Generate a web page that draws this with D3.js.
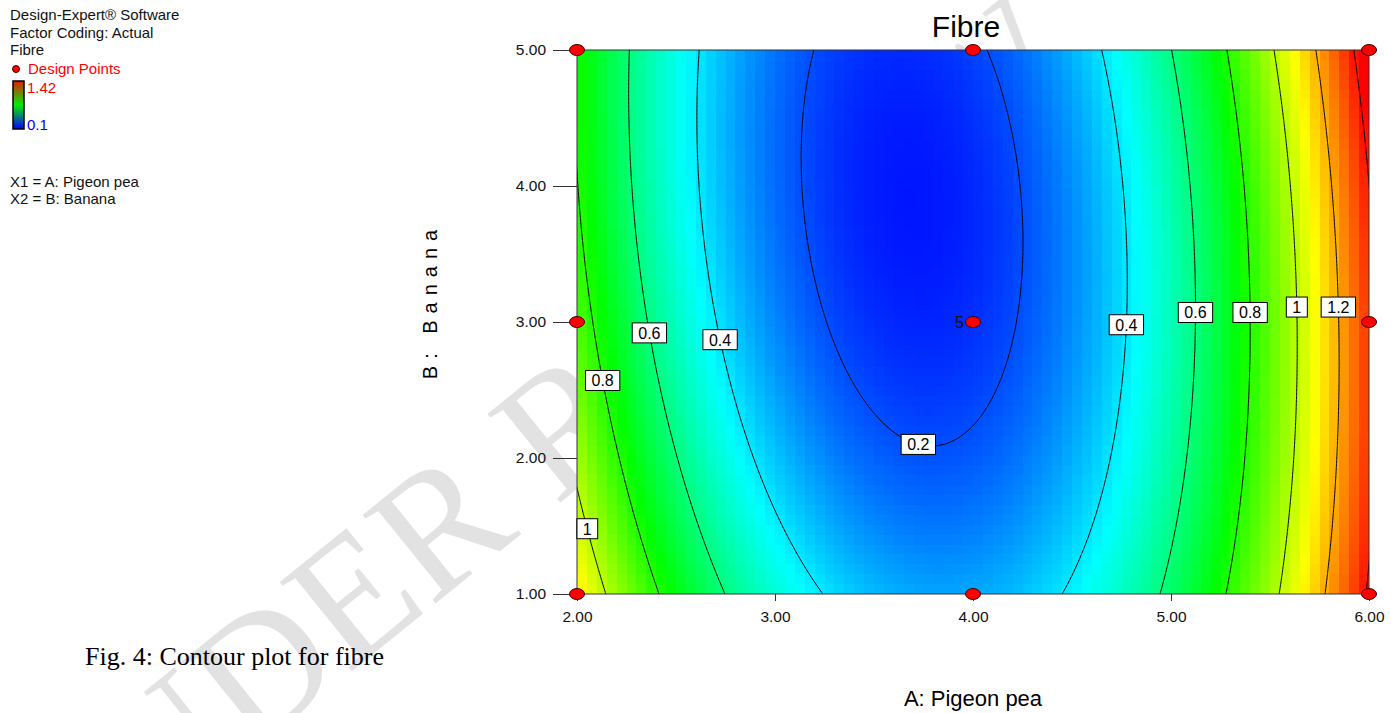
<!DOCTYPE html>
<html>
<head>
<meta charset="utf-8">
<script src="https://cdn.jsdelivr.net/npm/d3@7"></script>
<style>
  html, body { margin: 0; padding: 0; background: #fff; }
  svg { display: block; font-family: Arial, "Liberation Sans", sans-serif; }
</style>
</head>
<body>
<svg id="chart" width="1391" height="713"></svg>
<script>
// Response surface in actual factors:
// Fibre = c0 + c1*A + c2*B + c3*A*B + c4*A^2 + c5*B^2
const modelTerms = ["Intercept", "A", "B", "AB", "A^2", "B^2"];
const modelCoefs = [4.074, -1.852, -0.2707, 0.0252, 0.2375, 0.0228];

const rangeA = [2, 6];
const rangeB = [1, 5];
const ticksA = [2, 3, 4, 5, 6];
const ticksB = [1, 2, 3, 4, 5];

const contourLevels = [0.2, 0.4, 0.6, 0.8, 1, 1.2, 1.4];

// contour labels: level, which branch of the curve, and the B where the label sits
const labelLevels = [0.2, 0.4, 0.6, 0.8, 1, 0.4, 0.6, 0.8, 1, 1.2];
const labelSides = ["left", "left", "left", "left", "left", "right", "right", "right", "right", "right"];
const labelB = [2.1, 2.87, 2.92, 2.57, 1.48, 2.98, 3.07, 3.07, 3.11, 3.11];

const designA = [2, 2, 2, 4, 4, 4, 6, 6, 6];
const designB = [1, 3, 5, 1, 3, 5, 1, 3, 5];
const designReps = [1, 1, 1, 1, 5, 1, 1, 1, 1];

const responseMin = 0.1;
const responseMax = 1.42;
const colorStops = [0.1, 0.43, 0.76, 1.09, 1.42];
const colorRange = ["#0000ff", "#00ffff", "#00ff00", "#ffff00", "#ff0000"];

const legendLines = ["Design-Expert\u00ae Software", "Factor Coding: Actual", "Fibre"];
const factorLines = ["X1 = A: Pigeon pea", "X2 = B: Banana"];

// ---------------------------------------------------------------
const plot = { left: 577, right: 1369, top: 50, bottom: 594 };

const svg = d3.select("#chart");

const x = d3.scaleLinear().domain(rangeA).range([plot.left, plot.right]);
const y = d3.scaleLinear().domain(rangeB).range([plot.bottom, plot.top]);
const color = d3.scaleLinear().domain(colorStops).range(colorRange).clamp(true);

function fibre(a, b) {
  const c = modelCoefs;
  return c[0] + c[1] * a + c[2] * b + c[3] * a * b + c[4] * a * a + c[5] * b * b;
}

// A where the surface reaches "level" at a given B
function solveA(level, b, side) {
  const c = modelCoefs;
  const p = c[4];
  const q = c[1] + c[3] * b;
  const r = c[0] + c[2] * b + c[5] * b * b - level;
  const disc = q * q - 4 * p * r;
  if (disc < 0) return -q / (2 * p);
  const s = Math.sqrt(disc);
  return side === "left" ? (-q - s) / (2 * p) : (-q + s) / (2 * p);
}

// watermark behind everything
svg.append("text")
  .attr("transform", "translate(53,913) rotate(-39)")
  .attr("font-family", "'Liberation Serif', 'Times New Roman', serif")
  .attr("font-size", 175)
  .attr("fill", "#e2e2e2")
  .text("UNDER REVIEW");

svg.append("defs").append("clipPath").attr("id", "plot-clip")
  .append("rect")
  .attr("x", plot.left).attr("y", plot.top)
  .attr("width", plot.right - plot.left).attr("height", plot.bottom - plot.top);

// colour cells
const nCols = 80, nRows = 55;
const cells = [];
for (let j = 0; j < nRows; j++) {
  for (let i = 0; i < nCols; i++) {
    const a0 = rangeA[0] + (i / nCols) * (rangeA[1] - rangeA[0]);
    const a1 = rangeA[0] + ((i + 1) / nCols) * (rangeA[1] - rangeA[0]);
    const b0 = rangeB[1] - (j / nRows) * (rangeB[1] - rangeB[0]);
    const b1 = rangeB[1] - ((j + 1) / nRows) * (rangeB[1] - rangeB[0]);
    cells.push({ a0, a1, b0, b1, v: fibre((a0 + a1) / 2, (b0 + b1) / 2) });
  }
}

const plotArea = svg.append("g").attr("clip-path", "url(#plot-clip)");

plotArea.append("g")
  .selectAll("rect")
  .data(cells)
  .enter()
  .append("rect")
  .attr("x", (d) => x(d.a0))
  .attr("y", (d) => y(d.b0))
  .attr("width", (d) => x(d.a1) - x(d.a0) + 0.6)
  .attr("height", (d) => y(d.b1) - y(d.b0) + 0.6)
  .attr("fill", (d) => color(d.v))
  .attr("shape-rendering", "crispEdges");

// contour lines (grid goes one step past each edge, the clip hides the rim)
const step = 0.01;
const n = Math.round((rangeA[1] - rangeA[0]) / step) + 3;
const m = Math.round((rangeB[1] - rangeB[0]) / step) + 3;
const values = new Array(n * m);
for (let j = 0; j < m; j++) {
  for (let i = 0; i < n; i++) {
    values[j * n + i] = fibre(rangeA[0] + (i - 1) * step, rangeB[1] - (j - 1) * step);
  }
}
const contours = d3.contours().size([n, m]).thresholds(contourLevels)(values);

const gridToPlot = d3.geoTransform({
  point: function (gx, gy) {
    this.stream.point(x(rangeA[0] + (gx - 1.5) * step), y(rangeB[1] - (gy - 1.5) * step));
  },
});

plotArea.append("g")
  .selectAll("path")
  .data(contours)
  .enter()
  .append("path")
  .attr("d", d3.geoPath(gridToPlot))
  .attr("fill", "none")
  .attr("stroke", "#000")
  .attr("stroke-width", 1);

// contour labels
const labels = labelLevels.map((level, i) => ({
  level,
  b: labelB[i],
  a: solveA(level, labelB[i], labelSides[i]),
}));

const labelGroups = svg.append("g")
  .selectAll("g")
  .data(labels)
  .enter()
  .append("g")
  .attr("transform", (d) => `translate(${x(d.a)},${y(d.b)})`);

labelGroups.append("text")
  .attr("class", "clabel")
  .attr("text-anchor", "middle")
  .attr("y", 6)
  .attr("font-size", 16)
  .attr("fill", "#000")
  .text((d) => d3.format("")(d.level));

labelGroups.each(function () {
  const g = d3.select(this);
  const bb = g.select("text").node().getBBox();
  g.insert("rect", "text")
    .attr("x", -bb.width / 2 - 6)
    .attr("y", -10)
    .attr("width", bb.width + 12)
    .attr("height", 20)
    .attr("fill", "#fff")
    .attr("stroke", "#000")
    .attr("stroke-width", 1);
});

// frame
svg.append("rect")
  .attr("x", plot.left).attr("y", plot.top)
  .attr("width", plot.right - plot.left).attr("height", plot.bottom - plot.top)
  .attr("fill", "none")
  .attr("stroke", "#333")
  .attr("stroke-width", 1);

// axes
const xAxis = svg.append("g")
  .attr("transform", `translate(0,${plot.bottom})`)
  .call(d3.axisBottom(x).tickValues(ticksA).tickFormat(d3.format(".2f")).tickSizeInner(7).tickSizeOuter(0).tickPadding(10));
const yAxis = svg.append("g")
  .attr("transform", `translate(${plot.left},0)`)
  .call(d3.axisLeft(y).tickValues(ticksB).tickFormat(d3.format(".2f")).tickSizeInner(24).tickSizeOuter(0).tickPadding(7));

[xAxis, yAxis].forEach((ax) => {
  ax.select(".domain").remove();
  ax.selectAll(".tick line").attr("stroke", "#333");
  ax.selectAll(".tick text")
    .attr("font-family", "Arial, 'Liberation Sans', sans-serif")
    .attr("font-size", 15.5)
    .attr("fill", "#111");
});

// design points
const points = designA.map((a, i) => ({ a, b: designB[i], reps: designReps[i] }));
svg.append("g")
  .selectAll("ellipse")
  .data(points)
  .enter()
  .append("ellipse")
  .attr("cx", (d) => x(d.a))
  .attr("cy", (d) => y(d.b))
  .attr("rx", 7.5)
  .attr("ry", 5.5)
  .attr("fill", "#ff0000")
  .attr("stroke", "#400000")
  .attr("stroke-width", 1);

svg.append("g")
  .selectAll("text")
  .data(points.filter((d) => d.reps > 1))
  .enter()
  .append("text")
  .attr("x", (d) => x(d.a) - 9)
  .attr("y", (d) => y(d.b) + 6)
  .attr("text-anchor", "end")
  .attr("font-size", 16)
  .attr("fill", "#111")
  .text((d) => d.reps);

// titles
svg.append("text")
  .attr("x", 966).attr("y", 37)
  .attr("text-anchor", "middle")
  .attr("font-size", 30)
  .text("Fibre");

svg.append("text")
  .attr("x", (plot.left + plot.right) / 2).attr("y", 706)
  .attr("text-anchor", "middle")
  .attr("font-size", 22)
  .text("A: Pigeon pea");

svg.append("text")
  .attr("transform", "translate(437,301) rotate(-90)")
  .attr("text-anchor", "middle")
  .attr("font-size", 20)
  .attr("letter-spacing", 7)
  .text("B: Banana");

// legend block, top left
svg.append("g")
  .selectAll("text")
  .data(legendLines)
  .enter()
  .append("text")
  .attr("x", 10)
  .attr("y", (d, i) => 20 + i * 17.7)
  .attr("font-size", 15)
  .attr("fill", "#111")
  .text((d) => d);

svg.append("circle").attr("cx", 16).attr("cy", 69).attr("r", 3.5)
  .attr("fill", "#ff0000").attr("stroke", "#400000");
svg.append("text").attr("x", 28).attr("y", 74).attr("font-size", 15)
  .attr("fill", "#ff0000").text("Design Points");

const grad = svg.select("defs").append("linearGradient")
  .attr("id", "legend-grad")
  .attr("x1", 0).attr("y1", 0).attr("x2", 0).attr("y2", 1);
grad.append("stop").attr("offset", "0%").attr("stop-color", "#e02000");
grad.append("stop").attr("offset", "50%").attr("stop-color", "#00ee00");
grad.append("stop").attr("offset", "100%").attr("stop-color", "#0000ff");

svg.append("rect")
  .attr("x", 13).attr("y", 81).attr("width", 11).attr("height", 48)
  .attr("fill", "url(#legend-grad)")
  .attr("stroke", "#000").attr("stroke-width", 1.5);

svg.append("text").attr("x", 27).attr("y", 93).attr("font-size", 15)
  .attr("fill", "#ff0000").text(d3.format("")(responseMax));
svg.append("text").attr("x", 27).attr("y", 130).attr("font-size", 15)
  .attr("fill", "#0000ff").text(d3.format("")(responseMin));

svg.append("g")
  .selectAll("text")
  .data(factorLines)
  .enter()
  .append("text")
  .attr("x", 10)
  .attr("y", (d, i) => 186.5 + i * 17.5)
  .attr("font-size", 15)
  .attr("fill", "#111")
  .text((d) => d);

// figure caption
svg.append("text")
  .attr("x", 85).attr("y", 665)
  .attr("font-family", "'Liberation Serif', 'Times New Roman', serif")
  .attr("font-size", 26)
  .attr("fill", "#000")
  .text("Fig. 4: Contour plot for fibre");
</script>
</body>
</html>
